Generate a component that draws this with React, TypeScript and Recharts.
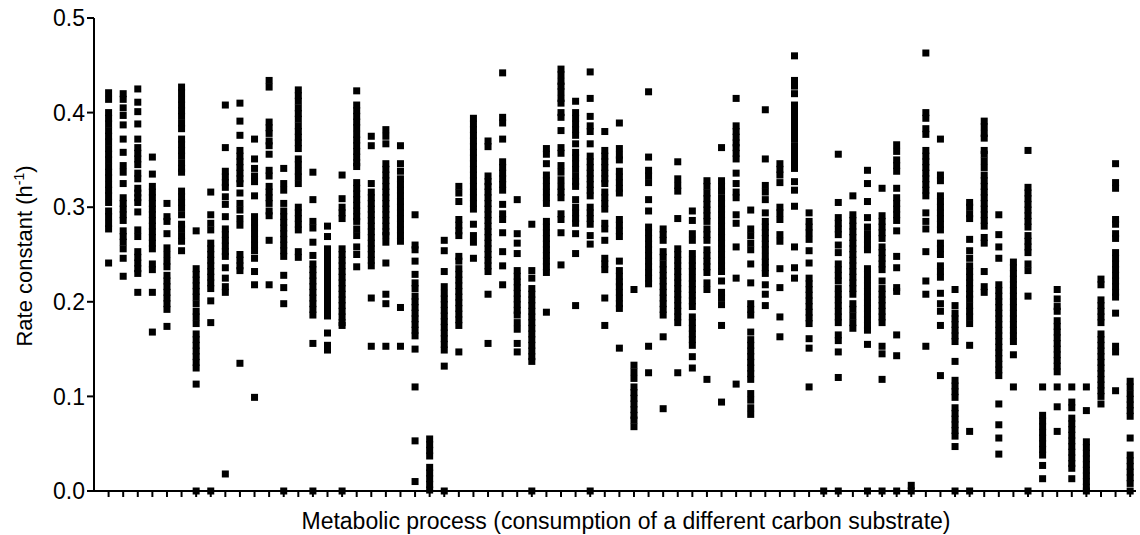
import React from 'react';
import { ScatterChart, Scatter, XAxis, YAxis, Label } from 'recharts';

// Category index of each metabolic process (carbon substrate) along the x axis
const substrates: number[] = Array.from({ length: 71 }, (_, i) => i + 1);

// Y axis tick values
const yTicks: number[] = [0, 0.1, 0.2, 0.3, 0.4, 0.5];

const rateColumns: number[][] = [
  [0.421,0.414,0.400,0.394,0.388,0.381,0.375,0.369,0.362,0.356,0.350,0.343,0.337,0.331,0.324,0.318,0.312,0.305,0.296,0.290,0.283,0.277,0.241],
  [0.420,0.414,0.405,0.397,0.387,0.372,0.358,0.344,0.337,0.325,0.310,0.304,0.298,0.292,0.286,0.275,0.269,0.263,0.256,0.246,0.227],
  [0.425,0.411,0.401,0.388,0.372,0.363,0.357,0.351,0.345,0.336,0.330,0.320,0.315,0.310,0.305,0.295,0.276,0.269,0.253,0.247,0.241,0.235,0.230,0.210],
  [0.353,0.335,0.322,0.316,0.310,0.304,0.298,0.292,0.286,0.280,0.274,0.268,0.262,0.256,0.240,0.234,0.210,0.168],
  [0.304,0.290,0.285,0.272,0.257,0.250,0.243,0.237,0.228,0.222,0.216,0.210,0.204,0.198,0.192,0.174],
  [0.427,0.421,0.414,0.408,0.402,0.396,0.389,0.383,0.372,0.366,0.360,0.354,0.347,0.341,0.337,0.317,0.311,0.305,0.299,0.292,0.282,0.277,0.270,0.264,0.254],
  [0.275,0.235,0.229,0.223,0.217,0.211,0.205,0.198,0.190,0.184,0.177,0.166,0.160,0.154,0.148,0.142,0.136,0.130,0.113,0],
  [0.316,0.292,0.283,0.276,0.262,0.256,0.250,0.244,0.238,0.232,0.226,0.220,0.214,0.201,0.178,0],
  [0.408,0.363,0.338,0.332,0.326,0.321,0.311,0.303,0.290,0.277,0.271,0.265,0.259,0.253,0.248,0.236,0.225,0.216,0.210,0.018],
  [0.410,0.391,0.376,0.360,0.354,0.348,0.342,0.336,0.330,0.325,0.315,0.304,0.297,0.288,0.281,0.250,0.244,0.238,0.233,0.135],
  [0.372,0.351,0.341,0.333,0.327,0.312,0.290,0.284,0.278,0.272,0.266,0.260,0.254,0.246,0.232,0.218,0.099],
  [0.434,0.427,0.390,0.384,0.378,0.370,0.365,0.356,0.339,0.333,0.322,0.316,0.310,0.304,0.296,0.291,0.265,0.218],
  [0.341,0.325,0.318,0.304,0.296,0.290,0.284,0.278,0.272,0.266,0.260,0.254,0.248,0.228,0.215,0.198,0],
  [0.424,0.418,0.412,0.405,0.399,0.393,0.386,0.380,0.374,0.368,0.362,0.351,0.345,0.338,0.332,0.325,0.300,0.294,0.288,0.282,0.276,0.253,0.247],
  [0.337,0.308,0.285,0.278,0.263,0.249,0.240,0.234,0.228,0.222,0.216,0.210,0.204,0.198,0.192,0.186,0.156,0],
  [0.280,0.269,0.256,0.250,0.244,0.238,0.232,0.226,0.220,0.214,0.208,0.202,0.196,0.190,0.185,0.167,0.154,0.149],
  [0.334,0.309,0.300,0.294,0.288,0.256,0.250,0.244,0.238,0.232,0.226,0.220,0.214,0.208,0.202,0.196,0.190,0.184,0.178,0.175,0],
  [0.423,0.408,0.402,0.396,0.390,0.384,0.377,0.371,0.365,0.359,0.353,0.347,0.343,0.326,0.320,0.314,0.308,0.302,0.296,0.290,0.285,0.277,0.270,0.258,0.250,0.237],
  [0.375,0.365,0.325,0.316,0.310,0.304,0.298,0.292,0.286,0.280,0.274,0.268,0.262,0.256,0.250,0.244,0.238,0.204,0.153],
  [0.382,0.375,0.367,0.346,0.340,0.334,0.328,0.322,0.316,0.310,0.304,0.298,0.292,0.286,0.280,0.274,0.270,0.263,0.241,0.208,0.198,0.153],
  [0.365,0.346,0.338,0.330,0.324,0.318,0.312,0.306,0.300,0.294,0.288,0.282,0.276,0.270,0.264,0.194,0.153],
  [0.292,0.260,0.255,0.243,0.229,0.220,0.214,0.206,0.200,0.194,0.188,0.182,0.176,0.170,0.164,0.150,0.110,0.053,0.010],
  [0.055,0.049,0.043,0.037,0.025,0.019,0.013,0.007,0.001],
  [0.265,0.254,0.232,0.216,0.209,0.203,0.197,0.191,0.185,0.179,0.173,0.167,0.161,0.155,0.149,0.132,0],
  [0.322,0.315,0.306,0.287,0.281,0.275,0.270,0.248,0.243,0.235,0.229,0.223,0.217,0.211,0.205,0.199,0.193,0.187,0.181,0.175,0.147],
  [0.394,0.388,0.382,0.376,0.370,0.364,0.358,0.352,0.346,0.340,0.334,0.328,0.322,0.316,0.310,0.304,0.298,0.282,0.270,0.263,0.246],
  [0.370,0.364,0.333,0.327,0.322,0.316,0.310,0.304,0.298,0.292,0.286,0.280,0.274,0.268,0.262,0.256,0.250,0.244,0.238,0.232,0.208,0.156],
  [0.442,0.395,0.389,0.372,0.348,0.342,0.336,0.330,0.324,0.318,0.303,0.293,0.287,0.273,0.253,0.238,0.218],
  [0.308,0.272,0.262,0.251,0.233,0.227,0.221,0.215,0.209,0.203,0.197,0.191,0.186,0.178,0.171,0.156,0.147],
  [0.282,0.233,0.225,0.214,0.208,0.202,0.196,0.190,0.184,0.178,0.172,0.166,0.160,0.154,0.148,0.142,0.137,0],
  [0.362,0.356,0.346,0.334,0.328,0.322,0.316,0.310,0.304,0.285,0.279,0.273,0.267,0.261,0.255,0.249,0.243,0.237,0.231,0.189],
  [0.446,0.440,0.433,0.428,0.422,0.415,0.410,0.400,0.395,0.381,0.363,0.357,0.344,0.337,0.329,0.322,0.316,0.310,0.293,0.287,0.273,0.239],
  [0.412,0.400,0.394,0.388,0.382,0.376,0.367,0.358,0.352,0.346,0.340,0.333,0.327,0.322,0.308,0.300,0.294,0.288,0.283,0.272,0.251,0.196],
  [0.443,0.415,0.396,0.386,0.380,0.367,0.354,0.348,0.342,0.336,0.330,0.324,0.318,0.312,0.300,0.294,0.288,0.282,0.270,0.261,0],
  [0.380,0.360,0.354,0.348,0.342,0.336,0.330,0.325,0.316,0.310,0.304,0.298,0.283,0.277,0.265,0.246,0.240,0.234,0.204,0.175],
  [0.389,0.362,0.355,0.350,0.338,0.332,0.326,0.320,0.315,0.287,0.281,0.275,0.269,0.243,0.233,0.227,0.221,0.216,0.210,0.204,0.198,0.193,0.151],
  [0.213,0.133,0.126,0.119,0.110,0.104,0.098,0.092,0.086,0.080,0.075,0.068],
  [0.422,0.353,0.339,0.333,0.326,0.308,0.296,0.279,0.273,0.267,0.261,0.255,0.249,0.243,0.237,0.231,0.225,0.219,0.153,0.125],
  [0.277,0.271,0.265,0.253,0.247,0.240,0.234,0.228,0.222,0.216,0.210,0.204,0.198,0.192,0.186,0.163,0.087],
  [0.348,0.330,0.323,0.317,0.288,0.256,0.250,0.244,0.238,0.232,0.226,0.220,0.214,0.208,0.202,0.196,0.190,0.184,0.178,0.125],
  [0.296,0.286,0.272,0.265,0.251,0.244,0.238,0.232,0.225,0.219,0.213,0.207,0.201,0.195,0.184,0.178,0.172,0.166,0.160,0.154,0.142,0.130],
  [0.328,0.322,0.315,0.309,0.303,0.297,0.291,0.285,0.277,0.271,0.265,0.255,0.249,0.243,0.237,0.231,0.220,0.213,0.118],
  [0.363,0.328,0.322,0.317,0.310,0.304,0.298,0.292,0.286,0.280,0.274,0.268,0.262,0.256,0.250,0.244,0.238,0.232,0.222,0.210,0.204,0.197,0.175,0.094],
  [0.415,0.386,0.380,0.374,0.368,0.363,0.357,0.351,0.336,0.325,0.316,0.310,0.292,0.283,0.258,0.225,0.113],
  [0.297,0.277,0.270,0.262,0.255,0.240,0.220,0.198,0.192,0.186,0.168,0.160,0.154,0.148,0.142,0.136,0.130,0.124,0.118,0.103,0.096,0.088,0.081],
  [0.403,0.351,0.323,0.316,0.308,0.294,0.285,0.279,0.273,0.267,0.261,0.255,0.248,0.242,0.236,0.230,0.218,0.208,0.196],
  [0.346,0.340,0.334,0.326,0.300,0.294,0.287,0.271,0.264,0.235,0.215,0.184,0.163],
  [0.460,0.434,0.428,0.420,0.408,0.402,0.396,0.390,0.384,0.378,0.372,0.365,0.359,0.353,0.347,0.341,0.327,0.318,0.301,0.258,0.236,0.225],
  [0.294,0.285,0.279,0.273,0.266,0.254,0.241,0.225,0.219,0.213,0.207,0.201,0.195,0.189,0.183,0.177,0.161,0.151,0.110],
  [0],
  [0.356,0.305,0.289,0.283,0.277,0.271,0.260,0.252,0.240,0.234,0.228,0.222,0.214,0.208,0.202,0.196,0.190,0.184,0.178,0.165,0.159,0.147,0.120,0],
  [0.312,0.292,0.286,0.280,0.274,0.268,0.262,0.256,0.250,0.244,0.238,0.232,0.226,0.220,0.214,0.208,0.198,0.192,0.185,0.178,0.172],
  [0.339,0.325,0.306,0.289,0.279,0.272,0.266,0.260,0.255,0.235,0.229,0.223,0.217,0.211,0.205,0.199,0.193,0.187,0.181,0.175,0.170,0.155,0],
  [0.320,0.291,0.285,0.279,0.273,0.267,0.258,0.252,0.246,0.240,0.234,0.222,0.214,0.208,0.202,0.196,0.190,0.184,0.178,0.153,0.145,0.118,0],
  [0.366,0.359,0.350,0.344,0.338,0.320,0.310,0.304,0.298,0.292,0.286,0.275,0.248,0.236,0.215,0.211,0.165,0.143,0],
  [0.006,0],
  [0.463,0.400,0.394,0.383,0.377,0.360,0.354,0.348,0.342,0.336,0.330,0.324,0.318,0.312,0.294,0.285,0.277,0.253,0.222,0.208,0.153],
  [0.372,0.334,0.328,0.312,0.306,0.300,0.294,0.288,0.282,0.276,0.262,0.256,0.250,0.238,0.232,0.226,0.209,0.198,0.190,0.175,0.122],
  [0.213,0.196,0.188,0.182,0.176,0.170,0.164,0.158,0.137,0.117,0.111,0.105,0.099,0.088,0.082,0.076,0.070,0.064,0.058,0.047,0],
  [0.305,0.300,0.293,0.288,0.266,0.254,0.246,0.238,0.232,0.226,0.220,0.214,0.208,0.203,0.196,0.190,0.184,0.177,0.154,0.063,0],
  [0.391,0.385,0.378,0.373,0.360,0.356,0.349,0.342,0.334,0.328,0.322,0.316,0.310,0.304,0.298,0.292,0.286,0.280,0.268,0.262,0.232,0.216,0.210],
  [0.292,0.271,0.258,0.246,0.218,0.212,0.206,0.200,0.194,0.188,0.182,0.176,0.170,0.164,0.158,0.152,0.146,0.140,0.134,0.128,0.122,0.092,0.070,0.056,0.039],
  [0.242,0.236,0.230,0.224,0.218,0.212,0.206,0.200,0.194,0.188,0.182,0.176,0.170,0.164,0.158,0.144,0.110],
  [0.360,0.321,0.315,0.309,0.303,0.297,0.291,0.285,0.279,0.270,0.264,0.258,0.252,0.240,0.233,0.206,0],
  [0.110,0.080,0.074,0.068,0.062,0.056,0.050,0.044,0.038,0.027,0.013],
  [0.213,0.203,0.195,0.190,0.180,0.174,0.168,0.162,0.156,0.150,0.144,0.138,0.132,0.126,0.110,0.089,0.063],
  [0.110,0.094,0.088,0.077,0.071,0.065,0.059,0.053,0.047,0.041,0.035,0.029,0.024,0.013],
  [0.110,0.085,0.052,0.046,0.040,0.034,0.028,0.022,0.016,0.010,0.004,0],
  [0.224,0.218,0.202,0.196,0.190,0.184,0.178,0.166,0.160,0.154,0.148,0.142,0.136,0.130,0.124,0.118,0.112,0.106,0.100,0.092],
  [0.346,0.326,0.320,0.287,0.282,0.272,0.267,0.252,0.246,0.240,0.234,0.228,0.222,0.216,0.210,0.205,0.188,0.153,0.147,0.106],
  [0.116,0.110,0.103,0.097,0.091,0.085,0.079,0.056,0.038,0.032,0.026,0.020,0.014,0.008,0],
];

const xTitle = 'Metabolic process (consumption of a different carbon substrate)';
const yTitleMain = 'Rate constant (h';
const yTitleSup = '-1';

const FONT = '"Liberation Sans", Arial, Helvetica, sans-serif';

const points = substrates.flatMap((s, i) =>
  (rateColumns[i] || []).map((v) => ({ x: s, y: v }))
);

const SquareMarker = (props: any) => {
  const { cx, cy } = props;
  if (cx == null || cy == null) return <g />;
  return <rect x={cx - 3.5} y={cy - 3.5} width={7} height={7} fill="#000" />;
};

const EmptyTick = () => <g />;

const renderYTitle = () => (
  <text
    transform="translate(32,256) rotate(-90)"
    textAnchor="middle"
    fontSize={22}
    fontFamily={FONT}
    fill="#000"
  >
    {yTitleMain}
    <tspan dy={-8} fontSize={14}>{yTitleSup}</tspan>
    <tspan dy={8}>)</tspan>
  </text>
);

const renderXTitle = () => (
  <text x={626} y={529} textAnchor="middle" fontSize={23} fontFamily={FONT} fill="#000">
    {xTitle}
  </text>
);

export default function App() {
  return (
    <div style={{ position: 'absolute', left: 0, top: 0, width: 1140, height: 535, background: '#fff' }}>
      <ScatterChart width={1140} height={535} margin={{ top: 18, right: 4, bottom: 0, left: 0 }}>
        <XAxis
          type="number"
          dataKey="x"
          domain={[0, 71.4]}
          ticks={substrates}
          interval={0}
          tick={EmptyTick}
          tickSize={6}
          tickLine={{ stroke: '#000', strokeWidth: 2 }}
          axisLine={{ stroke: '#000', strokeWidth: 2 }}
          height={44}
        >
          <Label content={renderXTitle} />
        </XAxis>
        <YAxis
          type="number"
          dataKey="y"
          domain={[0, 0.5]}
          ticks={yTicks}
          interval={0}
          tickFormatter={(v: number) => v.toFixed(1)}
          tick={{ fill: '#000', fontSize: 23, fontFamily: FONT }}
          tickSize={7}
          tickLine={{ stroke: '#000', strokeWidth: 2 }}
          axisLine={{ stroke: '#000', strokeWidth: 2 }}
          width={94}
        >
          <Label content={renderYTitle} />
        </YAxis>
        <Scatter data={points} shape={SquareMarker} isAnimationActive={false} />
      </ScatterChart>
    </div>
  );
}
